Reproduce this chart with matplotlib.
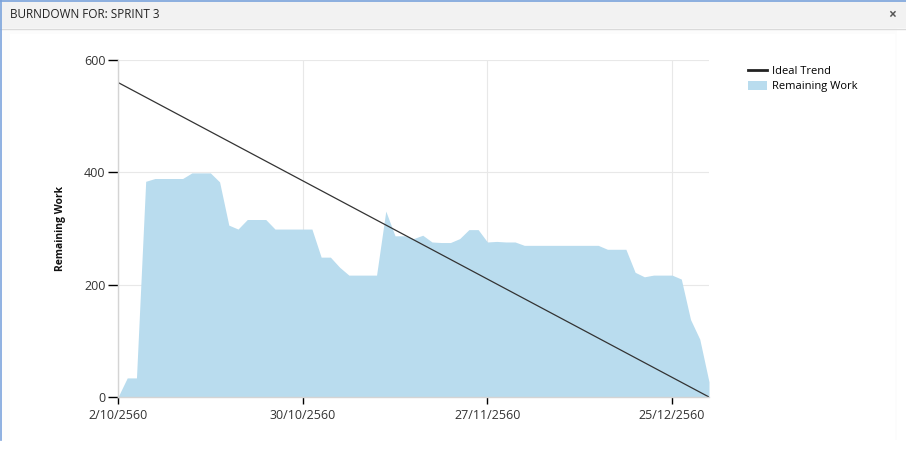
import datetime as dt
import matplotlib
matplotlib.use("Agg")
import matplotlib.pyplot as plt
from matplotlib.patches import Rectangle, Patch
from matplotlib.lines import Line2D

# --- data ---
start_date = dt.datetime(2017, 10, 2)   # 2/10/2560 (Thai Buddhist year)
day_offsets = [0.0, 1.4, 2.8, 4.2, 5.6, 7.0, 8.4, 9.8, 11.2, 12.6,
               14.0, 15.4, 16.8, 18.2, 19.6, 21.0, 22.4, 23.8, 25.2, 26.6,
               28.0, 29.4, 30.8, 32.2, 33.6, 35.0, 36.4, 37.8, 39.2, 40.6,
               42.0, 43.4, 44.8, 46.2, 47.6, 49.0, 50.4, 51.8, 53.2, 54.6,
               56.0, 57.4, 58.8, 60.2, 61.6, 63.0, 64.4, 65.8, 67.2, 68.6,
               70.0, 71.4, 72.8, 74.2, 75.6, 77.0, 78.4, 79.8, 81.2, 82.6,
               84.0, 85.4, 86.8, 88.2, 89.6]
remaining = [0, 34, 34, 384, 389, 389, 389, 389, 399, 399,
             399, 383, 306, 299, 316, 316, 316, 299, 299, 299,
             299, 299, 249, 249, 231, 217, 217, 217, 217, 331,
             287, 287, 282, 288, 276, 275, 275, 282, 298, 298,
             276, 277, 276, 276, 270, 270, 270, 270, 270, 270,
             270, 270, 270, 263, 263, 263, 222, 214, 217, 217,
             217, 210, 138, 103, 27]
ideal_start = 560
ideal_end = 0
tick_offsets = [0, 28, 56, 84]
tick_labels = ["2/10/2560", "30/10/2560", "27/11/2560", "25/12/2560"]
y_ticks = [0, 200, 400, 600]

dates = [start_date + dt.timedelta(days=d) for d in day_offsets]

plt.rcParams['font.family'] = ['Open Sans', 'DejaVu Sans']

W, H = 906, 463
fig = plt.figure(figsize=(W / 100, H / 100), dpi=100)
fig.patch.set_facecolor("white")

# --- panel chrome (drawn behind the axes) ---
def px_rect(x0, y0, x1, y1, color):
    fig.patches.append(Rectangle((x0 / W, 1 - y1 / H), (x1 - x0) / W, (y1 - y0) / H,
                                 transform=fig.transFigure, figure=fig,
                                 facecolor=color, edgecolor="none", zorder=-10))

def px_line(xs, ys, color, lw):
    fig.lines.append(Line2D([x / W for x in xs], [1 - y / H for y in ys],
                            transform=fig.transFigure, color=color, lw=lw, zorder=-5))

px_rect(0, 0, W, 28, "#f2f2f2")
px_rect(1, 28, 897, 440, "#fcfcfc")
px_rect(10, 34, 895, 440, "white")
px_line([0, W], [28.5, 28.5], "#dadada", 1)
px_line([0, W], [0.5, 0.5], "#7ba3dc", 1.2)
px_line([0.5, 0.5], [0, 440], "#7ba3dc", 1.2)
fig.text(10 / W, 1 - 15 / H, "BURNDOWN FOR: SPRINT 3", fontsize=8.5,
         color="#222222", va="center", ha="left")
fig.text(892 / W, 1 - 15 / H, "×", fontsize=10, fontweight="bold",
         color="#555555", va="center", ha="center")

# --- chart ---
ax = fig.add_axes([118 / W, 1 - 397 / H, 591 / W, 337 / H])
ax.set_facecolor("none")
ax.fill_between(dates, remaining, 0, color="#b9dcee", lw=0)
ax.plot([dates[0], dates[-1]], [ideal_start, ideal_end], color="#333333", lw=0.9)

ax.set_xlim(dates[0], dates[-1])
ax.set_ylim(0, 600)
ax.set_yticks(y_ticks)
ax.set_xticks([start_date + dt.timedelta(days=d) for d in tick_offsets])
ax.set_xticklabels(tick_labels)
ax.grid(True, color="#e8e8e8", lw=0.8)
ax.set_axisbelow(True)
for s in ["top", "right"]:
    ax.spines[s].set_visible(False)
for s in ["left", "bottom"]:
    ax.spines[s].set_color("#d4d4d4")
    ax.spines[s].set_linewidth(1)
ax.tick_params(axis="y", length=7, width=1, color="black", labelsize=9,
               labelcolor="#333333", pad=2)
ax.tick_params(axis="x", length=5, width=1, color="black", labelsize=9,
               labelcolor="#333333", pad=3.5)
ax.set_ylabel("Remaining Work", fontsize=7.5, fontweight="bold", color="#111111",
              labelpad=13)

handles = [Line2D([], [], color="#222222", lw=2),
           Patch(facecolor="#b9dcee", edgecolor="none")]
fig.legend(handles, ["Ideal Trend", "Remaining Work"],
           loc="upper left", bbox_to_anchor=(748 / W, 1 - 66 / H),
           frameon=False, fontsize=8, handlelength=1.75, handleheight=0.8,
           handletextpad=0.45, labelspacing=0.35, borderpad=0,
           borderaxespad=0)

fig.savefig("out.png", dpi=100)
